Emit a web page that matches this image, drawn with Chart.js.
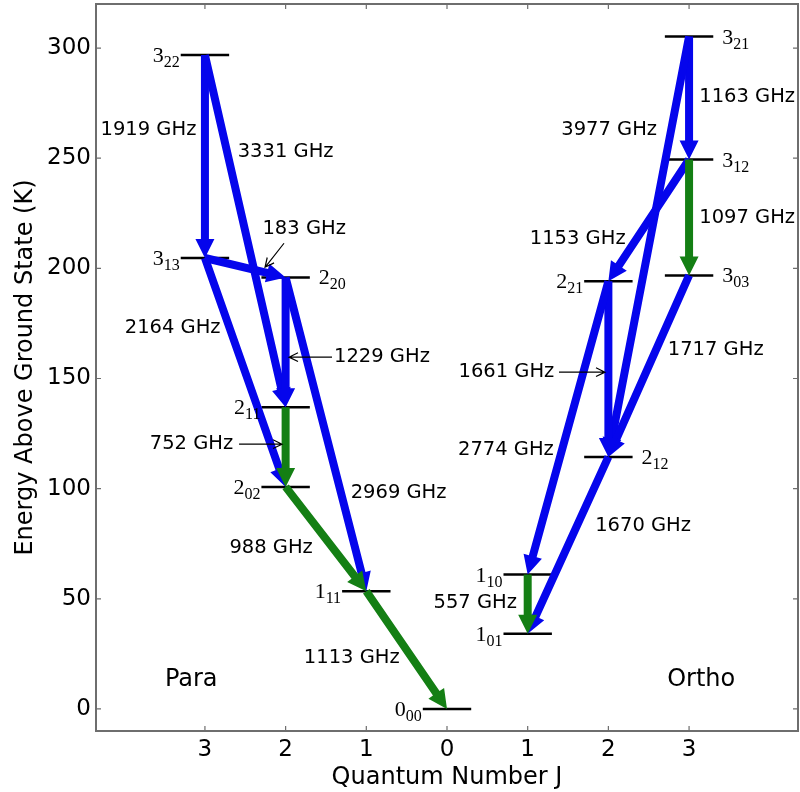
<!DOCTYPE html>
<html>
<head>
<meta charset="utf-8">
<script src="https://cdn.jsdelivr.net/npm/chart.js@4.4.1/dist/chart.umd.min.js"></script>
<style>
  html, body { margin: 0; padding: 0; background: #fff; }
  canvas { display: block; }
</style>
</head>
<body>
<canvas id="levels" width="800" height="792"></canvas>
<script>
// energy levels (K above ground state); x = -J for para, +J for ortho
const levelNames = ["3_22", "3_13", "2_20", "2_11", "2_02", "1_11", "0_00",
                    "3_21", "3_12", "3_03", "2_21", "2_12", "1_10", "1_01"];
const levelJ = [-3, -3, -2, -2, -2, -1, 0, 3, 3, 3, 2, 2, 1, 1];
const levelEnergy = [296.8, 204.7, 195.9, 136.9, 100.8, 53.4, 0,
                     305.2, 249.4, 196.8, 194.1, 114.4, 61.0, 34.2];

// transitions
const transFrom = ["3_22", "3_22", "3_13", "2_20", "3_13", "2_11", "2_20", "2_02", "1_11",
                   "3_21", "3_21", "3_12", "3_12", "3_03", "2_21", "2_21", "2_12", "1_10"];
const transTo   = ["3_13", "2_11", "2_20", "2_11", "2_02", "2_02", "1_11", "1_11", "0_00",
                   "3_12", "2_12", "2_21", "3_03", "2_12", "2_12", "1_10", "1_01", "1_01"];
const transGHz  = [1919, 3331, 183, 1229, 2164, 752, 2969, 988, 1113,
                   1163, 3977, 1153, 1097, 1717, 1661, 2774, 1670, 557];
const greenGHz = [752, 988, 1113, 1097, 557];

const xTickValues = [-3, -2, -1, 0, 1, 2, 3];
const xTickLabels = ["3", "2", "1", "0", "1", "2", "3"];
const yTickValues = [0, 50, 100, 150, 200, 250, 300];

// where things are written (data units)
const rightLabeled = ["2_20", "3_21", "3_12", "3_03", "2_12"];
const freqLabelPos = {
  1919: [-3.70, 262.7, "center"], 3331: [-2.00, 252.7, "center"], 183: [-1.77, 217.8, "center"],
  2164: [-3.40, 172.9, "center"], 1229: [-1.40, 159.7, "left"], 752: [-2.65, 120.2, "right"],
  2969: [-0.60, 98.0, "center"], 988: [-2.18, 73.0, "center"], 1113: [-1.18, 23.1, "center"],
  1163: [3.72, 277.7, "center"], 3977: [2.01, 262.7, "center"], 1097: [3.72, 222.8, "center"],
  1153: [1.62, 213.2, "center"], 1717: [3.33, 162.9, "center"], 1661: [1.33, 152.9, "right"],
  2774: [0.73, 117.5, "center"], 1670: [2.43, 83.0, "center"], 557: [0.35, 48.1, "center"]
};
const pointers = {
  183: [[-2.02, 211.4], [-2.255, 200.5]],
  1229: [[-1.425, 159.7], [-1.958, 159.7]],
  752: [[-2.577, 120.2], [-2.045, 120.2]],
  1661: [[1.388, 152.9], [1.958, 152.9]]
};
const sideNames = [["Para", -3.17, 13.2], ["Ortho", 3.15, 13.2]];

const SANS = '"DejaVu Sans", sans-serif';
const SERIF = '"Liberation Serif", serif';
const HALF = 0.3;

function lvl(name) {
  const i = levelNames.indexOf(name);
  return { x: levelJ[i], y: levelEnergy[i] };
}

const levelSets = levelNames.map((n, i) => ({
  label: n,
  data: [{ x: levelJ[i] - HALF, y: levelEnergy[i] }, { x: levelJ[i] + HALF, y: levelEnergy[i] }],
  showLine: true,
  borderColor: "#000",
  borderWidth: 2.5,
  pointRadius: 0
}));

function fatArrow(ctx, x0, y0, x1, y1, color) {
  const dx = x1 - x0, dy = y1 - y0;
  const len = Math.hypot(dx, dy);
  const ux = dx / len, uy = dy / len, nx = -uy, ny = ux;
  const w = 4, hw = 9.5, hl = 19;
  const bx = x1 - ux * hl, by = y1 - uy * hl;
  ctx.beginPath();
  ctx.moveTo(x0 + nx * w, y0 + ny * w);
  ctx.lineTo(bx + nx * w, by + ny * w);
  ctx.lineTo(bx + nx * hw, by + ny * hw);
  ctx.lineTo(x1, y1);
  ctx.lineTo(bx - nx * hw, by - ny * hw);
  ctx.lineTo(bx - nx * w, by - ny * w);
  ctx.lineTo(x0 - nx * w, y0 - ny * w);
  ctx.closePath();
  ctx.fillStyle = color;
  ctx.fill();
}

function thinArrow(ctx, x0, y0, x1, y1) {
  const a = Math.atan2(y1 - y0, x1 - x0);
  const h = 10, spread = 0.45;
  ctx.beginPath();
  ctx.moveTo(x0, y0);
  ctx.lineTo(x1, y1);
  ctx.moveTo(x1 - h * Math.cos(a - spread), y1 - h * Math.sin(a - spread));
  ctx.lineTo(x1, y1);
  ctx.lineTo(x1 - h * Math.cos(a + spread), y1 - h * Math.sin(a + spread));
  ctx.strokeStyle = "#000";
  ctx.lineWidth = 1.2;
  ctx.stroke();
}

const framePlugin = {
  id: "frame",
  afterDraw(chart) {
    const { ctx, chartArea: a, scales: { x, y } } = chart;
    ctx.save();
    ctx.strokeStyle = "#6e6e6e";
    ctx.lineWidth = 2;
    ctx.strokeRect(a.left, a.top, a.right - a.left, a.bottom - a.top);
    ctx.lineWidth = 1.2;
    ctx.beginPath();
    xTickValues.forEach(v => {
      const px = x.getPixelForValue(v);
      ctx.moveTo(px, a.bottom); ctx.lineTo(px, a.bottom - 5);
      ctx.moveTo(px, a.top); ctx.lineTo(px, a.top + 5);
    });
    yTickValues.forEach(v => {
      const py = y.getPixelForValue(v);
      ctx.moveTo(a.left, py); ctx.lineTo(a.left + 5, py);
      ctx.moveTo(a.right, py); ctx.lineTo(a.right - 5, py);
    });
    ctx.stroke();
    ctx.restore();
  }
};

const diagramPlugin = {
  id: "diagram",
  afterDatasetsDraw(chart) {
    const { ctx, scales: { x, y } } = chart;
    const P = (vx, vy) => [x.getPixelForValue(vx), y.getPixelForValue(vy)];
    ctx.save();

    // transitions
    transGHz.forEach((f, i) => {
      const a = lvl(transFrom[i]), b = lvl(transTo[i]);
      const [x0, y0] = P(a.x, a.y), [x1, y1] = P(b.x, b.y);
      fatArrow(ctx, x0, y0, x1, y1, greenGHz.includes(f) ? "#147f14" : "#0505ec");
    });

    // level labels
    levelNames.forEach((n, i) => {
      const [main, sub] = n.split("_");
      const right = rightLabeled.includes(n);
      const [lx, py] = P(levelJ[i] - HALF, levelEnergy[i]);
      const [rx] = P(levelJ[i] + HALF, levelEnergy[i]);
      ctx.font = "22px " + SERIF;
      const mw = ctx.measureText(main).width;
      ctx.font = "16px " + SERIF;
      const sw = ctx.measureText(sub).width;
      const sx = right ? rx + 9 : lx - 1 - mw - sw;
      ctx.fillStyle = "#000";
      ctx.textAlign = "left";
      ctx.textBaseline = "alphabetic";
      ctx.font = "22px " + SERIF;
      ctx.fillText(main, sx, py + 7);
      ctx.font = "16px " + SERIF;
      ctx.fillText(sub, sx + mw, py + 12);
    });

    // frequency labels
    ctx.font = "19.5px " + SANS;
    ctx.textBaseline = "middle";
    ctx.fillStyle = "#000";
    transGHz.forEach(f => {
      const [vx, vy, al] = freqLabelPos[f];
      const [px, py] = P(vx, vy);
      ctx.textAlign = al;
      ctx.fillText(f + " GHz", px, py);
    });
    Object.keys(pointers).forEach(k => {
      const [s, e] = pointers[k];
      const [x0, y0] = P(s[0], s[1]), [x1, y1] = P(e[0], e[1]);
      thinArrow(ctx, x0, y0, x1, y1);
    });

    ctx.font = "24px " + SANS;
    ctx.textAlign = "center";
    sideNames.forEach(([t, vx, vy]) => {
      const [px, py] = P(vx, vy);
      ctx.fillText(t, px, py);
    });
    ctx.restore();
  }
};

new Chart(document.getElementById("levels").getContext("2d"), {
  type: "scatter",
  data: { datasets: levelSets },
  options: {
    responsive: false,
    animation: false,
    layout: { padding: { top: 4, right: 2, left: 0, bottom: 0 } },
    plugins: { legend: { display: false }, tooltip: { enabled: false } },
    scales: {
      x: {
        type: "linear",
        min: -4.35,
        max: 4.35,
        afterBuildTicks: s => { s.ticks = xTickValues.map(v => ({ value: v })); },
        afterFit: s => { s.height = 61; s.paddingLeft = 0; s.paddingRight = 0; },
        grid: { display: false, drawTicks: false },
        border: { display: false },
        ticks: {
          autoSkip: false,
          maxRotation: 0,
          padding: 5,
          color: "#000",
          font: { family: SANS, size: 23 },
          callback: (v, i) => xTickLabels[i]
        },
        title: {
          display: true,
          text: "Quantum Number J",
          color: "#000",
          font: { family: SANS, size: 24 },
          padding: { top: 0, bottom: 0 }
        }
      },
      y: {
        type: "linear",
        min: -10,
        max: 320,
        afterBuildTicks: s => { s.ticks = yTickValues.map(v => ({ value: v })); },
        afterFit: s => { s.width = 96; s.paddingTop = 0; s.paddingBottom = 0; },
        grid: { display: false, drawTicks: false },
        border: { display: false },
        ticks: {
          padding: 5,
          color: "#000",
          font: { family: SANS, size: 23 }
        },
        title: {
          display: true,
          text: "Energy Above Ground State (K)",
          color: "#000",
          font: { family: SANS, size: 24 },
          padding: { top: 11, bottom: 0 }
        }
      }
    }
  },
  plugins: [framePlugin, diagramPlugin]
});
</script>
</body>
</html>
